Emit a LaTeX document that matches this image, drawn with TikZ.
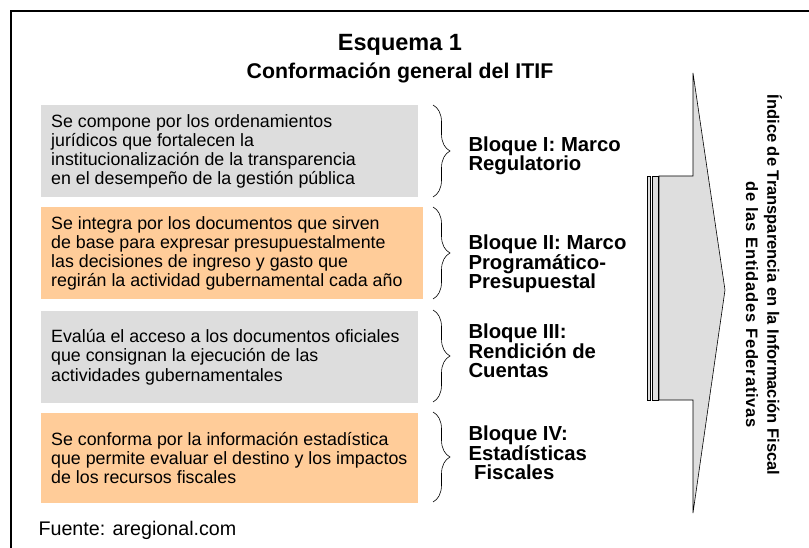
\documentclass[tikz,border=0pt]{standalone}
\usepackage{fontspec}
\setmainfont{Liberation Sans}
\usetikzlibrary{decorations.pathreplacing}
\definecolor{boxgray}{HTML}{DDDDDD}
\definecolor{boxorange}{HTML}{FFCC99}
\definecolor{arrowgray}{HTML}{DEDEDE}
\begin{document}
\begin{tikzpicture}[x=1pt,y=-1pt,
  panel/.style={rectangle, inner sep=0pt, minimum width=#1, minimum height=92pt, anchor=north west},
  graybox/.style={panel=377pt, fill=boxgray},
  orangebox/.style={panel=382pt, fill=boxorange},
  boxtext/.style={anchor=west, align=left, inner sep=0pt, font=\fontsize{17.8}{19.2}\selectfont},
  bloque/.style={anchor=west, align=left, font=\bfseries\fontsize{20.3}{19.5}\selectfont},
  bracedeco/.style={decorate, decoration={brace, amplitude=17pt, aspect=0.5}, line width=0.6pt},
  vtext/.style={rotate=-90, font=\bfseries\fontsize{16.5}{21}\selectfont}
]
\useasboundingbox (0,0) rectangle (809,548);
% frame
\draw[line width=2.5pt] (11,549) -- (11,11) -- (810,11);
% title
\node[font=\bfseries\fontsize{21.3}{28}\selectfont, align=center] (title) at (400,59)
  {{\fontsize{23.5}{28}\selectfont Esquema 1}\\Conformación general del ITIF};
% boxes
\node[graybox] (b1) at (41,105) {};
\node[orangebox] (b2) at (41,207) {};
\node[graybox] (b3) at (41,311) {};
\node[graybox, fill=boxorange, minimum height=90pt] (b4) at (41,413) {};
\node[boxtext] (t1) at ([xshift=10pt]b1.west)
  {Se compone por los ordenamientos\\jurídicos que fortalecen la\\institucionalización de la transparencia\\en el desempeño de la gestión pública};
\node[boxtext] (t2) at ([xshift=10pt]b2.west)
  {Se integra por los documentos que sirven\\de base para expresar presupuestalmente\\las decisiones de ingreso y gasto que\\regirán la actividad gubernamental cada año};
\node[boxtext] (t3) at ([xshift=10pt]b3.west)
  {Evalúa el acceso a los documentos oficiales\\que consignan la ejecución de las\\actividades gubernamentales};
\node[boxtext] (t4) at ([xshift=10pt]b4.west)
  {Se conforma por la información estadística\\que permite evaluar el destino y los impactos\\de los recursos fiscales};
% braces
\draw[bracedeco] (433,105) -- (433,197);
\draw[bracedeco] (433,207) -- (433,299);
\draw[bracedeco] (433,310) -- (433,402);
\draw[bracedeco] (433,412) -- (433,502);
% labels
\node[bloque] (l1) at (465,156) {Bloque I: Marco\\Regulatorio};
\node[bloque] (l2) at (465,264) {Bloque II: Marco\\Programático-\\Presupuestal};
\node[bloque] (l3) at (465,351) {Bloque III:\\Rendición de\\Cuentas};
\node[bloque] (l4) at (465,453) {Bloque IV:\\Estadísticas\\\ Fiscales};
% arrow
\draw[fill=arrowgray, line width=0.6pt] (659,176) -- (693,176) -- (693,73) -- (725,290)
  -- (693,513) -- (693,400) -- (659,400) -- cycle;
\draw[fill=arrowgray, line width=0.6pt] (647,176) rectangle (650,400);
\draw[fill=arrowgray, line width=0.6pt] (652,176) rectangle (658,400);
% vertical text
\node[vtext] (v1) at (773,285) {Índice de Transparencia en la Información Fiscal};
\node[vtext] (v2) at (752,305) {\addfontfeatures{LetterSpace=5}de las Entidades Federativas};
% source
\node[anchor=west, font=\fontsize{19.7}{19.7}\selectfont] (src) at (35,530) {Fuente: aregional.com};
\end{tikzpicture}
\end{document}
